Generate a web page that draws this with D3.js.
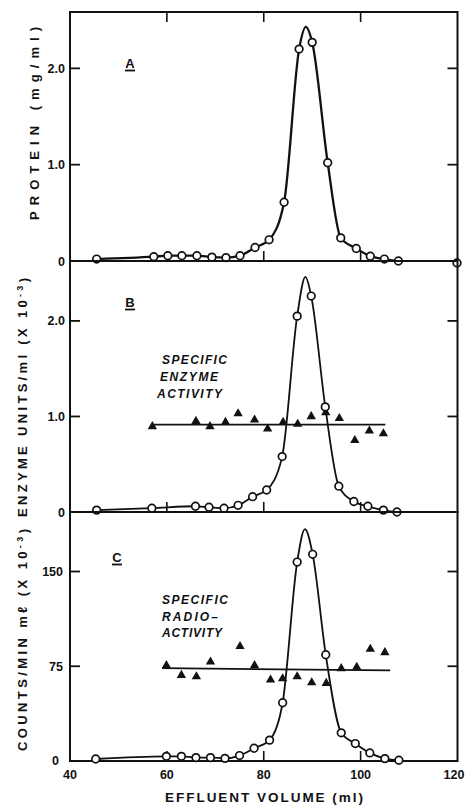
<!DOCTYPE html>
<html><head><meta charset="utf-8">
<script src="https://cdn.jsdelivr.net/npm/d3@7"></script>
<style>body{margin:0;background:#fff}svg text{font-family:"Liberation Sans",Arial,sans-serif;font-weight:bold;fill:#111}</style>
</head><body>
<svg id="chart" width="467" height="809"></svg>
<script>
// ---- data ----
const volTicks = [40, 60, 80, 100, 120];

// Panel A: protein (mg/ml)
const proteinVol = [45.5,57.3,60.2,63.1,66.2,69.3,72.2,75.1,78.2,81.1,84.2,87.3,90.0,93.2,95.9,99.1,102.0,104.9,107.8,119.9];
const proteinVal = [0.02,0.045,0.055,0.055,0.055,0.04,0.035,0.055,0.14,0.22,0.61,2.20,2.27,1.02,0.24,0.13,0.05,0.02,0.0,-0.02];
const proteinPeak = [88.7, 2.43];
const proteinTicks = [0, 1.0, 2.0];
const proteinTickLabels = ["0", "1.0", "2.0"];

// Panel B: enzyme units/ml (x 10^-3)
const enzymeVol = [45.5,56.9,65.9,68.7,71.8,74.7,77.7,80.6,83.8,86.9,89.8,92.7,95.5,98.6,101.5,104.7,107.5];
const enzymeVal = [0.02,0.04,0.06,0.05,0.04,0.07,0.16,0.23,0.58,2.05,2.26,1.10,0.27,0.11,0.06,0.02,0.0];
const enzymePeak = [88.6, 2.46];
const specEnzVol = [57.0,66.0,68.9,72.1,74.7,78.1,80.8,84.0,87.0,89.8,92.8,95.6,98.8,101.8,104.7];
const specEnzVal = [0.895,0.95,0.895,0.94,1.03,0.965,0.87,0.94,0.92,1.0,1.04,0.98,0.75,0.85,0.82];
const specEnzFitVol = [57.0, 105.1];
const specEnzFitVal = [0.915, 0.915];
const enzymeTicks = [0, 1.0, 2.0];
const enzymeTickLabels = ["0", "1.0", "2.0"];

// Panel C: counts/min ml (x 10^-3)
const countsVol = [45.3,59.9,63.0,66.0,69.0,72.0,75.0,78.0,81.2,83.9,86.9,90.1,92.8,96.0,98.9,101.9,105.0,107.9];
const countsVal = [1.6,3.7,3.7,2.7,2.7,2.1,4.3,10.1,16.5,46.1,157.5,163.6,84.1,22.3,13.8,6.4,1.9,0.6];
const countsPeak = [88.5, 183.5];
const specRadVol = [59.9,63.0,66.1,69.0,75.1,78.1,81.4,83.9,86.9,89.9,92.9,96.0,99.2,102.0,105.0];
const specRadVal = [75.6,67.9,66.8,78.5,90.7,75.6,64.2,65.2,66.8,62.1,61.6,73.2,74.3,88.6,85.9];
const specRadFitVol = [59.0, 106.1];
const specRadFitVal = [73.5, 71.7];
const countsTicks = [0, 75, 150];
const countsTickLabels = ["0", "75", "150"];

// ---- drawing ----
const svg = d3.select("#chart");
const x = d3.scaleLinear().domain([40, 120]).range([70, 457.5]);

const panels = [
  {top: 12, bottom: 261, ymax: 2.585, vol: proteinVol, val: proteinVal, peak: proteinPeak,
   ticks: proteinTicks, tickLabels: proteinTickLabels, labelEnd: 65, letter: "A", letterX: 130, letterY: 63,
   topTicks: true, curveW: 2.3},
  {top: 261, bottom: 512, ymax: 2.627, vol: enzymeVol, val: enzymeVal, peak: enzymePeak,
   ticks: enzymeTicks, tickLabels: enzymeTickLabels, labelEnd: 65, letter: "B", letterX: 130, letterY: 302,
   sVol: specEnzVol, sVal: specEnzVal, fVol: specEnzFitVol, fVal: specEnzFitVal,
   note: ["SPECIFIC", "ENZYME", "ACTIVITY"], noteX: [162, 160, 157], noteY: [364, 381, 398], noteW: [65, 58, 65],
   curveW: 1.8},
  {top: 512, bottom: 761, ymax: 197.1, vol: countsVol, val: countsVal, peak: countsPeak,
   ticks: countsTicks, tickLabels: countsTickLabels, labelEnd: 63, letter: "C", letterX: 117, letterY: 557,
   sVol: specRadVol, sVal: specRadVal, fVol: specRadFitVol, fVal: specRadFitVal,
   note: ["SPECIFIC", "RADIO–", "ACTIVITY"], noteX: [162, 162, 162], noteY: [604, 621, 637], noteW: [66, 56, 60],
   curveW: 1.8}
];

const [x0, x1] = x.range();
const tickLen = 10;

panels.forEach(p => {
  const y = d3.scaleLinear().domain([0, p.ymax]).range([p.bottom, p.top]);
  const g = svg.append("g");

  // frame
  g.append("rect").attr("x", x0).attr("y", p.top).attr("width", x1 - x0).attr("height", p.bottom - p.top)
    .attr("fill", "none").attr("stroke", "#111").attr("stroke-width", 2);

  // y ticks (inward, left and right)
  p.ticks.forEach((t, i) => {
    if (t !== 0) {
      g.append("line").attr("x1", x0).attr("x2", x0 + tickLen).attr("y1", y(t)).attr("y2", y(t))
        .attr("stroke", "#111").attr("stroke-width", 1.8);
      g.append("line").attr("x1", x1).attr("x2", x1 - tickLen).attr("y1", y(t)).attr("y2", y(t))
        .attr("stroke", "#111").attr("stroke-width", 1.8);
    }
    const isBottomZero = (t === 0 && p.letter === "C");
    g.append("text").attr("x", isBottomZero ? 59 : p.labelEnd).attr("y", y(t) - (isBottomZero ? 1 : 0))
      .attr("dy", "0.36em").attr("text-anchor", "end")
      .attr("font-size", 12.5).text(p.tickLabels[i]);
  });

  // x ticks (inward, bottom; top for panel A)
  volTicks.filter(v => v > 40 && v < 120).forEach(v => {
    g.append("line").attr("x1", x(v)).attr("x2", x(v)).attr("y1", p.bottom).attr("y2", p.bottom - tickLen)
      .attr("stroke", "#111").attr("stroke-width", 1.6);
    if (p.topTicks) {
      g.append("line").attr("x1", x(v)).attr("x2", x(v)).attr("y1", p.top).attr("y2", p.top + tickLen)
        .attr("stroke", "#111").attr("stroke-width", 1.6);
    }
  });

  // elution curve through measured points + peak
  const pts = p.vol.map((v, i) => [v, p.val[i]]).filter(d => d[0] <= 108);
  pts.push(p.peak);
  pts.sort((a, b) => a[0] - b[0]);
  const line = d3.line().x(d => x(d[0])).y(d => y(d[1])).curve(d3.curveMonotoneX);
  g.append("path").attr("d", line(pts)).attr("fill", "none").attr("stroke", "#111")
    .attr("stroke-width", p.curveW);

  // specific activity fit line and triangles
  if (p.sVol) {
    const fit = p.fVol.map((v, i) => [v, p.fVal[i]]);
    g.append("path").attr("d", d3.line().x(d => x(d[0])).y(d => y(d[1]))(fit))
      .attr("fill", "none").attr("stroke", "#111").attr("stroke-width", 1.7);
    g.selectAll(null).data(p.sVol.map((v, i) => [v, p.sVal[i]])).join("path")
      .attr("transform", d => `translate(${x(d[0])},${y(d[1])})`)
      .attr("d", d3.symbol(d3.symbolTriangle, 38)()).attr("fill", "#111");
    p.note.forEach((t, i) => {
      g.append("text").attr("x", p.noteX[i]).attr("y", p.noteY[i]).attr("font-size", 12)
        .attr("font-style", "italic").attr("textLength", p.noteW[i]).attr("lengthAdjust", "spacing").text(t);
    });
  }

  // open circles
  g.selectAll(null).data(p.vol.map((v, i) => [v, p.val[i]])).join("circle")
    .attr("cx", d => x(d[0])).attr("cy", d => y(d[1])).attr("r", 3.8)
    .attr("fill", "#fff").attr("stroke", "#111").attr("stroke-width", 1.7);

  // panel letter (underlined)
  g.append("text").attr("x", p.letterX).attr("y", p.letterY).attr("dy", "0.36em").attr("text-anchor", "middle")
    .attr("font-size", 13).text(p.letter);
  g.append("line").attr("x1", p.letterX - 5).attr("x2", p.letterX + 5)
    .attr("y1", p.letterY + 7.5).attr("y2", p.letterY + 7.5).attr("stroke", "#111").attr("stroke-width", 1.8);
});

// x tick labels
volTicks.forEach(v => {
  svg.append("text").attr("x", Math.min(x(v), 454)).attr("y", 774).attr("dy", "0.36em").attr("text-anchor", "middle")
    .attr("font-size", 12.5).text(v);
});
svg.append("text").attr("x", 264).attr("y", 797).attr("dy", "0.36em").attr("text-anchor", "middle")
  .attr("font-size", 13.5).attr("textLength", 198).attr("lengthAdjust", "spacing").text("EFFLUENT VOLUME (ml)");

// y axis titles
function yTitle(cx, cy, len, parts) {
  const t = svg.append("text").attr("transform", `translate(${cx},${cy}) rotate(-90)`)
    .attr("text-anchor", "middle").attr("dy", "0.36em").attr("font-size", 13);
  parts.forEach(pt => {
    const s = t.append("tspan").text(pt.t);
    if (pt.sup) s.attr("dy", "-0.4em").attr("font-size", 9);
    if (pt.after) s.attr("dy", "0.4em");
  });
  t.attr("textLength", len).attr("lengthAdjust", "spacing");
}
yTitle(34, 123.5, 193, [{t: "PROTEIN  (mg/ml)"}]);
yTitle(22, 397.5, 239, [{t: "ENZYME UNITS/ml (X 10"}, {t: "-3", sup: true}, {t: ")", after: true}]);
yTitle(22, 640, 222, [{t: "COUNTS/MIN mℓ (X 10"}, {t: "-3", sup: true}, {t: ")", after: true}]);
</script>
</body></html>
